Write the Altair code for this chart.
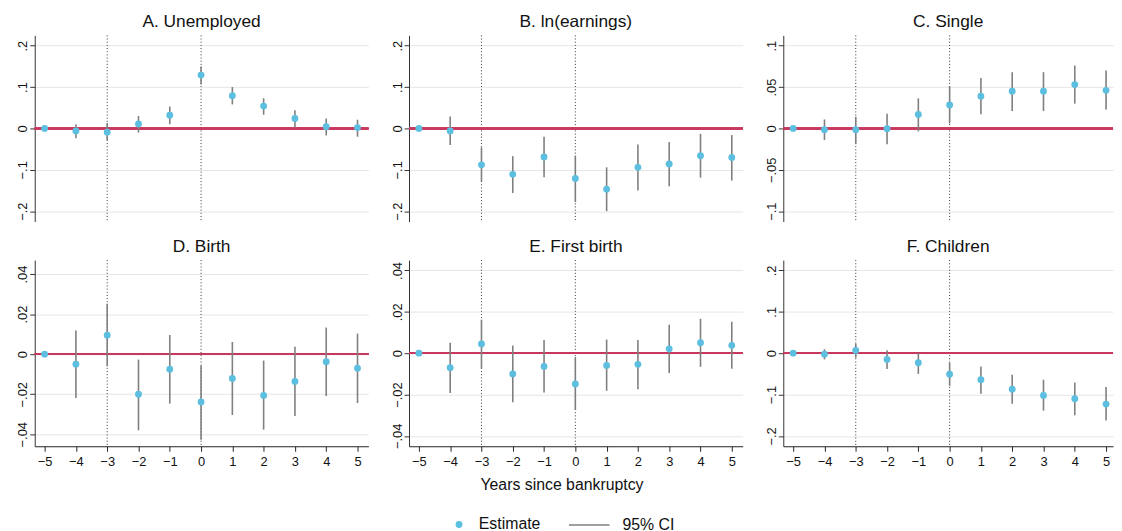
import altair as alt
import pandas as pd

years = [-5, -4, -3, -2, -1, 0, 1, 2, 3, 4, 5]
event_lines = [-3, 0]

titles = ["A. Unemployed", "B. ln(earnings)", "C. Single",
          "D. Birth", "E. First birth", "F. Children"]

unemp_est = [0, -0.006, -0.009, 0.011, 0.032, 0.129, 0.079, 0.054, 0.024, 0.004, 0.002]
unemp_lo = [0, -0.024, -0.028, -0.010, 0.010, 0.106, 0.058, 0.033, 0.002, -0.017, -0.020]
unemp_hi = [0, 0.010, 0.013, 0.030, 0.053, 0.150, 0.100, 0.073, 0.044, 0.024, 0.021]

earn_est = [0, -0.006, -0.088, -0.111, -0.069, -0.121, -0.147, -0.094, -0.086, -0.066, -0.070]
earn_lo = [0, -0.040, -0.128, -0.156, -0.118, -0.178, -0.200, -0.150, -0.140, -0.119, -0.126]
earn_hi = [0, 0.029, -0.046, -0.067, -0.020, -0.066, -0.094, -0.039, -0.033, -0.013, -0.016]

single_est = [0, -0.0016, -0.0016, -0.0004, 0.0168, 0.0284, 0.039, 0.045, 0.045, 0.053, 0.046]
single_lo = [0, -0.014, -0.019, -0.019, -0.0036, 0.006, 0.017, 0.021, 0.021, 0.030, 0.023]
single_hi = [0, 0.0108, 0.014, 0.0176, 0.0364, 0.051, 0.061, 0.068, 0.068, 0.076, 0.070]

birth_est = [0, -0.005, 0.0095, -0.020, -0.0075, -0.0239, -0.0121, -0.0206, -0.0136, -0.0038, -0.007]
birth_lo = [0, -0.0219, -0.006, -0.038, -0.0247, -0.0427, -0.0304, -0.0377, -0.0309, -0.0209, -0.0244]
birth_hi = [0, 0.0118, 0.0252, -0.0027, 0.0096, -0.0056, 0.0061, -0.0032, 0.0037, 0.0133, 0.0103]

first_est = [0, -0.007, 0.0045, -0.010, -0.0064, -0.0149, -0.0059, -0.0054, 0.0021, 0.0051, 0.0038]
first_lo = [0, -0.0192, -0.0075, -0.0237, -0.019, -0.0275, -0.0182, -0.0174, -0.0096, -0.0066, -0.0075]
first_hi = [0, 0.0051, 0.0162, 0.0037, 0.0064, -0.0019, 0.0066, 0.0064, 0.0138, 0.0166, 0.0152]

child_est = [0, -0.0024, 0.0064, -0.015, -0.023, -0.051, -0.064, -0.087, -0.102, -0.110, -0.123]
child_lo = [0, -0.015, -0.011, -0.038, -0.050, -0.079, -0.098, -0.122, -0.139, -0.150, -0.163]
child_hi = [0, 0.0096, 0.023, 0.0072, 0.0, -0.023, -0.032, -0.052, -0.064, -0.071, -0.082]

ticks_wide = [-0.2, -0.1, 0, 0.1, 0.2]
ticks_single = [-0.1, -0.05, 0, 0.05, 0.1]
ticks_birth = [-0.04, -0.02, 0, 0.02, 0.04]

x_title = "Years since bankruptcy"
legend_labels = ["Estimate", "95% CI"]

BLUE = "#5cbfe0"
GRAY = "#7f7f7f"
RED = "#c8385e"
FONT = "Liberation Sans"
XMIN = -5.316
PX_PER_YEAR = 31.6
PLOT_H = 188

label_expr = "datum.value == 0 ? '0' : replace(format(datum.value, '.2~f'), '0.', '.')"


def panel(title, est, lo, hi, ydom, yticks, width, bottom, with_xtitle=False):
    df = pd.DataFrame({"year": years, "est": est, "lo": lo, "hi": hi,
                       "lab": legend_labels[0], "ci": legend_labels[1]})
    xmax = XMIN + width / PX_PER_YEAR
    xscale = alt.Scale(domain=[XMIN, xmax], nice=False, zero=False)
    if bottom:
        xaxis_kw = dict(values=years, format="d", grid=False, tickSize=5,
                        labelFontSize=13, labelPadding=4, domainColor="#222",
                        tickColor="#222", labelColor="#111", labelFlush=False)
        if with_xtitle:
            xaxis_kw.update(title=x_title, titleFontSize=16, titleFontWeight="normal",
                            titleColor="#111", titleX=154, titleY=43.5,
                            titleAlign="center", titleBaseline="alphabetic")
        else:
            xaxis_kw.update(title=None)
        xaxis = alt.Axis(**xaxis_kw)
    else:
        xaxis = None
    yscale = alt.Scale(domain=ydom, nice=False, zero=False)
    yaxis = alt.Axis(values=yticks, labelExpr=label_expr, labelAngle=270,
                     labelAlign="center", labelBaseline="alphabetic", labelPadding=3,
                     tickSize=5, grid=True, gridColor="#e6e6e6", gridWidth=1,
                     domainColor="#333", tickColor="#333", labelColor="#111",
                     labelFontSize=13, minExtent=27, maxExtent=27, title=None,
                     labelFlush=False)

    vlines = alt.Chart(pd.DataFrame({"x": event_lines})).mark_rule(
        color="#333", strokeDash=[1, 2.2], strokeWidth=1
    ).encode(x=alt.X("x:Q", scale=xscale, axis=xaxis))

    zero = alt.Chart(df).mark_rule(color=RED, strokeWidth=1.6).encode(
        y=alt.YDatum(0, scale=yscale, axis=yaxis)
    )

    ci = alt.Chart(df).mark_rule(strokeWidth=1.6).encode(
        x=alt.X("year:Q", scale=xscale, axis=xaxis),
        y=alt.Y("lo:Q", scale=yscale, axis=yaxis),
        y2="hi:Q",
        stroke=alt.Stroke("ci:N", scale=alt.Scale(domain=[legend_labels[1]], range=[GRAY]),
                          legend=alt.Legend(orient="none", legendX=538.5, legendY=473,
                                            title=None, symbolType="stroke",
                                            symbolSize=1681, symbolStrokeWidth=1.5,
                                            labelFontSize=16, labelOffset=12,
                                            labelColor="#111", padding=0)),
    )

    pts = alt.Chart(df).mark_point(filled=True, size=48, opacity=1, strokeWidth=0).encode(
        x=alt.X("year:Q", scale=xscale, axis=xaxis),
        y=alt.Y("est:Q", scale=yscale, axis=yaxis),
        fill=alt.Fill("lab:N", scale=alt.Scale(domain=[legend_labels[0]], range=[BLUE]),
                      legend=alt.Legend(orient="none", legendX=420.5, legendY=486,
                                        title=None, symbolType="circle", symbolSize=48,
                                        symbolStrokeWidth=0, labelFontSize=16,
                                        labelOffset=12, labelColor="#111", padding=0)),
    )

    return alt.layer(vlines, zero, ci, pts).properties(
        width=width, height=PLOT_H,
        title=alt.TitleParams(text=title, fontSize=17.5, fontWeight="normal",
                              offset=4.5, frame="group", anchor="middle", color="#111"),
    )


W = 337
WR = 333
top = alt.hconcat(
    panel(titles[0], unemp_est, unemp_lo, unemp_hi, [-0.225, 0.225], ticks_wide, W, False),
    panel(titles[1], earn_est, earn_lo, earn_hi, [-0.225, 0.225], ticks_wide, W, False),
    panel(titles[2], single_est, single_lo, single_hi, [-0.1125, 0.1125], ticks_single, WR, False),
    spacing=13,
)
bottom = alt.hconcat(
    panel(titles[3], birth_est, birth_lo, birth_hi, [-0.046, 0.047], ticks_birth, W, True),
    panel(titles[4], first_est, first_lo, first_hi, [-0.045, 0.045], ticks_birth, W, True, True),
    panel(titles[5], child_est, child_lo, child_hi, [-0.225, 0.225], ticks_wide, WR, True),
    spacing=13,
)

chart = alt.vconcat(top, bottom, spacing=15).properties(
    padding={"left": 0, "top": 2, "right": 0, "bottom": 0}
).configure(font=FONT).configure_view(stroke=None)

chart.save("out.html", embed_options={"renderer": "svg", "actions": False})
